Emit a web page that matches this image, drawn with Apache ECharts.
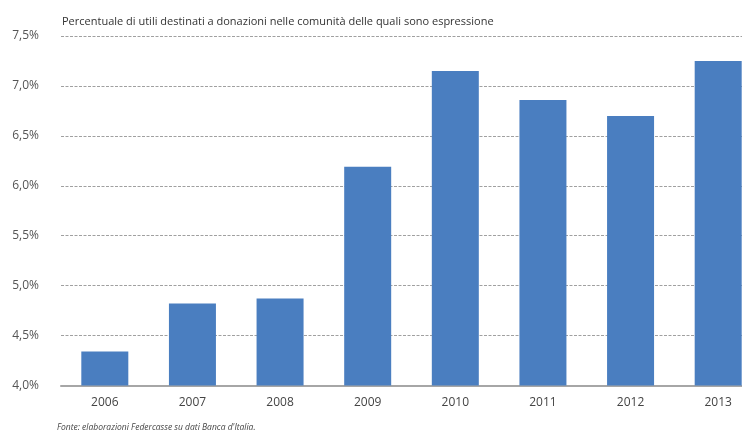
<!DOCTYPE html>
<html>
<head>
<meta charset="utf-8">
<script src="https://cdn.jsdelivr.net/npm/echarts@6/dist/echarts.min.js"></script>
<style>
html,body{margin:0;padding:0;background:#fff;overflow:hidden;width:742px;height:435px;}
#chart{width:762px;height:435px;}
</style>
</head>
<body>
<div id="chart"></div>
<script>
const titleText = 'Percentuale di utili destinati a donazioni nelle comunità delle quali sono espressione';
const sourceText = "Fonte: elaborazioni Federcasse su dati Banca d'Italia.";
const years = ['2006', '2007', '2008', '2009', '2010', '2011', '2012', '2013'];
const values = [4.34, 4.82, 4.87, 6.19, 7.15, 6.86, 6.70, 7.25];
const yMin = 4.0;
const yMax = 7.5;
const yStep = 0.5;

const chart = echarts.init(document.getElementById('chart'), null, {renderer: 'canvas'});
chart.setOption({
  backgroundColor: '#ffffff',
  animation: false,
  title: [
    {
      text: titleText,
      left: 57, top: 11,
      textStyle: {fontFamily: 'Open Sans', fontSize: 11, fontWeight: 'normal', color: '#333'}
    },
    {
      text: sourceText,
      left: 57, top: 423, padding: 0,
      textStyle: {fontFamily: 'Open Sans', fontSize: 8.5, fontStyle: 'italic', fontWeight: 'normal', color: '#444'}
    }
  ],
  grid: {left: 61, right: 0, top: 36, bottom: 49.5},
  xAxis: {
    type: 'category',
    data: years,
    axisTick: {show: false},
    axisLine: {lineStyle: {color: '#a6a6a6', width: 2}},
    axisLabel: {margin: 11, fontFamily: 'Open Sans', fontSize: 12, color: '#444'}
  },
  yAxis: {
    type: 'value',
    min: yMin, max: yMax, interval: yStep,
    axisLine: {show: false},
    axisTick: {show: false},
    axisLabel: {
      margin: 22, fontFamily: 'Open Sans', fontSize: 12, color: '#555',
      formatter: v => v.toFixed(1).replace('.', ',') + '%'
    },
    splitLine: {lineStyle: {color: '#a0a0a0', width: 1, type: [3, 1.5]}}
  },
  series: [{
    type: 'bar',
    data: values,
    barWidth: 47,
    itemStyle: {color: '#4a7ec0'}
  }]
});
</script>
</body>
</html>
